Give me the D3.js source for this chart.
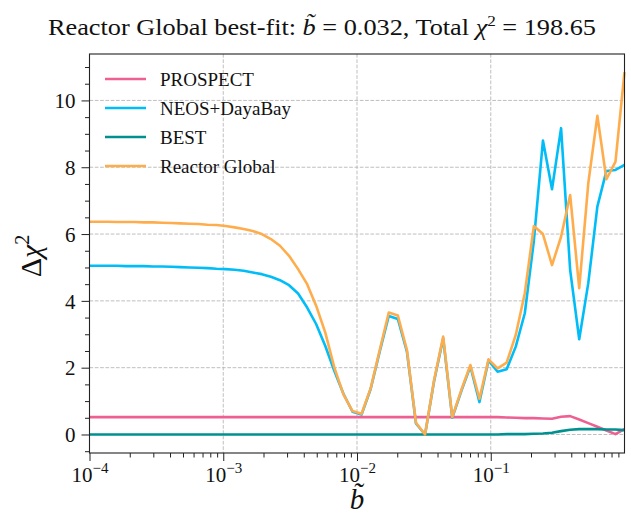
<!DOCTYPE html>
<html>
<head>
<meta charset="utf-8">
<script src="https://cdn.jsdelivr.net/npm/d3@7"></script>
<style>
	body { margin: 0; background: #fff; }
	svg { display: block; }
	text { font-family: "Liberation Serif", "DejaVu Serif", serif; fill: #111; }
</style>
</head>
<body>
<svg id="chart" width="631" height="515"></svg>
<script>
"use strict";

var bValues = [
	1.000e-4, 1.169e-4, 1.366e-4, 1.597e-4, 1.868e-4, 2.183e-4, 2.552e-4, 2.983e-4, 3.487e-4, 4.077e-4,
	4.766e-4, 5.571e-4, 6.512e-4, 7.612e-4, 8.899e-4, 1.040e-3, 1.216e-3, 1.421e-3, 1.662e-3, 1.942e-3,
	2.271e-3, 2.654e-3, 3.103e-3, 3.627e-3, 4.240e-3, 4.956e-3, 5.794e-3, 6.773e-3, 7.917e-3, 9.255e-3,
	1.082e-2, 1.265e-2, 1.478e-2, 1.728e-2, 2.020e-2, 2.362e-2, 2.761e-2, 3.227e-2, 3.772e-2, 4.410e-2,
	5.155e-2, 6.026e-2, 7.044e-2, 8.234e-2, 9.626e-2, 0.1125, 0.1315, 0.1538, 0.1797, 0.2101,
	0.2456, 0.2871, 0.3356, 0.3923, 0.4586, 0.5361, 0.6267, 0.7326, 0.8564, 1.000
];

var prospect = [
	0.52, 0.52, 0.52, 0.52, 0.52, 0.52, 0.52, 0.52, 0.52, 0.52,
	0.52, 0.52, 0.52, 0.52, 0.52, 0.52, 0.52, 0.52, 0.52, 0.52,
	0.52, 0.52, 0.52, 0.52, 0.52, 0.52, 0.52, 0.52, 0.52, 0.52,
	0.52, 0.52, 0.52, 0.52, 0.52, 0.52, 0.52, 0.52, 0.52, 0.52,
	0.52, 0.52, 0.52, 0.52, 0.52, 0.52, 0.51, 0.50, 0.49, 0.49,
	0.48, 0.47, 0.53, 0.55, 0.45, 0.34, 0.23, 0.12, 0.01, 0.16
];

var neosDayaBay = [
	5.05, 5.05, 5.05, 5.05, 5.04, 5.04, 5.04, 5.03, 5.03, 5.02,
	5.01, 5.00, 4.99, 4.98, 4.96, 4.95, 4.93, 4.90, 4.85, 4.80,
	4.72, 4.62, 4.47, 4.22, 3.80, 3.30, 2.65, 1.90, 1.22, 0.68,
	0.60, 1.36, 2.48, 3.55, 3.46, 2.48, 0.33, 0.00, 1.60, 2.88,
	0.50, 1.30, 2.04, 0.97, 2.22, 1.88, 1.95, 2.63, 3.63, 5.80,
	8.80, 7.34, 9.17, 4.93, 2.85, 4.53, 6.82, 7.89, 7.92, 8.07
];

var best = [
	0.00, 0.00, 0.00, 0.00, 0.00, 0.00, 0.00, 0.00, 0.00, 0.00,
	0.00, 0.00, 0.00, 0.00, 0.00, 0.00, 0.00, 0.00, 0.00, 0.00,
	0.00, 0.00, 0.00, 0.00, 0.00, 0.00, 0.00, 0.00, 0.00, 0.00,
	0.00, 0.00, 0.00, 0.00, 0.00, 0.00, 0.00, 0.00, 0.00, 0.00,
	0.00, 0.00, 0.00, 0.00, 0.00, 0.00, 0.01, 0.01, 0.01, 0.02,
	0.03, 0.05, 0.10, 0.14, 0.16, 0.16, 0.16, 0.15, 0.15, 0.13
];

var reactorGlobal = [
	6.37, 6.37, 6.37, 6.36, 6.36, 6.36, 6.35, 6.35, 6.34, 6.33,
	6.32, 6.31, 6.30, 6.28, 6.27, 6.24, 6.20, 6.15, 6.09, 6.00,
	5.85, 5.65, 5.35, 4.95, 4.50, 3.85, 3.05, 2.00, 1.20, 0.70,
	0.62, 1.38, 2.52, 3.65, 3.56, 2.53, 0.35, 0.00, 1.63, 2.93,
	0.52, 1.33, 2.08, 1.07, 2.25, 1.98, 2.15, 2.98, 4.23, 6.24,
	6.00, 5.07, 5.92, 7.17, 4.38, 7.52, 9.54, 7.64, 8.17, 10.85
];

var seriesNames = ["PROSPECT", "NEOS+DayaBay", "BEST", "Reactor Global"];
var seriesColors = ["#ee6092", "#00bdf8", "#00908f", "#ffad4c"];
var xTickValues = [1e-4, 1e-3, 1e-2, 1e-1];
var xTickExponents = ["\u22124", "\u22123", "\u22122", "\u22121"];
var yTickValues = [0, 2, 4, 6, 8, 10];

var plotLeft = 89.5,
	plotRight = 624.5,
	plotTop = 54,
	plotBottom = 453;

var svg = d3.select("#chart");

var xScale = d3.scaleLog().domain([1e-4, 1]).range([plotLeft, plotRight]);
var yScale = d3.scaleLinear().domain([-0.554, 11.39]).range([plotBottom, plotTop]);

// minor ticks
var xMinor = [];
[1e-4, 1e-3, 1e-2, 1e-1].forEach(function (d) {
	for (var m = 2; m <= 9; m++) {
		xMinor.push(d * m);
	}
});
var yMinor = d3.range(-0.5, 11.01, 0.5).filter(function (d) {
	return Math.abs(d % 2) > 1e-9;
});

// grid
var grid = svg.append("g").attr("class", "grid")
	.attr("stroke", "#b8b8b8")
	.attr("stroke-width", 0.9)
	.attr("stroke-dasharray", "3.7,1.6");

grid.selectAll(".grid-x").data(xTickValues.slice(1))
	.enter()
	.append("line")
	.attr("class", "grid-x")
	.attr("x1", function (d) { return xScale(d); })
	.attr("x2", function (d) { return xScale(d); })
	.attr("y1", plotTop)
	.attr("y2", plotBottom);

grid.selectAll(".grid-y").data(yTickValues)
	.enter()
	.append("line")
	.attr("class", "grid-y")
	.attr("x1", plotLeft)
	.attr("x2", plotRight)
	.attr("y1", function (d) { return yScale(d); })
	.attr("y2", function (d) { return yScale(d); });

// lines
var allSeries = [prospect, neosDayaBay, best, reactorGlobal];
var line = d3.line()
	.x(function (d, i) { return xScale(bValues[i]); })
	.y(function (d) { return yScale(d); });

var plot = svg.append("g").attr("class", "lines");
plot.selectAll("path").data(allSeries)
	.enter()
	.append("path")
	.attr("d", line)
	.attr("fill", "none")
	.attr("stroke", function (d, i) { return seriesColors[i]; })
	.attr("stroke-width", 2.6)
	.attr("stroke-linejoin", "round");

// axes
var xAxis = svg.append("g")
	.attr("transform", "translate(0," + plotBottom + ")")
	.call(d3.axisBottom(xScale).tickValues(xTickValues).tickSize(8).tickFormat(""));
svg.append("g")
	.attr("transform", "translate(0," + plotBottom + ")")
	.call(d3.axisBottom(xScale).tickValues(xMinor).tickSize(4.5).tickFormat(""));

var yAxis = svg.append("g")
	.attr("transform", "translate(" + plotLeft + ",0)")
	.call(d3.axisLeft(yScale).tickValues(yTickValues).tickSize(8).tickFormat(""));
svg.append("g")
	.attr("transform", "translate(" + plotLeft + ",0)")
	.call(d3.axisLeft(yScale).tickValues(yMinor).tickSize(4.5).tickFormat(""));

svg.selectAll(".domain").remove();
svg.selectAll(".tick line").attr("stroke", "#222").attr("stroke-width", 1);

xAxis.selectAll(".tick").each(function (d, i) {
	var t = d3.select(this).append("text")
		.attr("y", 29)
		.attr("text-anchor", "middle")
		.attr("font-size", 21)
		.attr("fill", "#111");
	t.append("tspan").text("10");
	t.append("tspan").attr("dy", -9).attr("font-size", 15).text(xTickExponents[i]);
});

yAxis.selectAll(".tick").append("text")
	.attr("x", -14)
	.attr("dy", "0.34em")
	.attr("text-anchor", "end")
	.attr("font-size", 21)
	.attr("fill", "#111")
	.text(function (d) { return d; });

// frame
svg.append("rect")
	.attr("x", plotLeft)
	.attr("y", plotTop)
	.attr("width", plotRight - plotLeft)
	.attr("height", plotBottom - plotTop)
	.attr("fill", "none")
	.attr("stroke", "#222")
	.attr("stroke-width", 1.1);

// legend
var legend = svg.append("g").attr("class", "legend");
var legendRows = legend.selectAll("g").data(seriesNames)
	.enter()
	.append("g")
	.attr("transform", function (d, i) { return "translate(105," + (79 + i * 29) + ")"; });
legendRows.append("line")
	.attr("x1", 0)
	.attr("x2", 41)
	.attr("stroke", function (d, i) { return seriesColors[i]; })
	.attr("stroke-width", 2.6);
legendRows.append("text")
	.attr("x", 55)
	.attr("dy", "0.35em")
	.attr("font-size", 19)
	.text(function (d) { return d; });

// title
var title = svg.append("text")
	.attr("x", 322)
	.attr("y", 35)
	.attr("text-anchor", "middle")
	.attr("font-size", 23)
	.attr("textLength", 548)
	.attr("lengthAdjust", "spacingAndGlyphs");
title.append("tspan").text("Reactor Global best-fit: ");
title.append("tspan").attr("font-style", "italic").text("b\u0303");
title.append("tspan").text(" = 0.032, Total ");
title.append("tspan").attr("font-style", "italic").text("\u03c7");
title.append("tspan").attr("dy", -9).attr("font-size", 15).text("2");
title.append("tspan").attr("dy", 9).text(" = 198.65");

// axis labels
svg.append("text")
	.attr("x", 357)
	.attr("y", 509)
	.attr("text-anchor", "middle")
	.attr("font-size", 29)
	.attr("font-style", "italic")
	.text("b\u0303");

var ylab = svg.append("text")
	.attr("transform", "translate(41,256) rotate(-90)")
	.attr("text-anchor", "middle")
	.attr("font-size", 30);
ylab.append("tspan").text("\u0394");
ylab.append("tspan").attr("font-style", "italic").text("\u03c7");
ylab.append("tspan").attr("dy", -12).attr("font-size", 20).text("2");
</script>
</body>
</html>
